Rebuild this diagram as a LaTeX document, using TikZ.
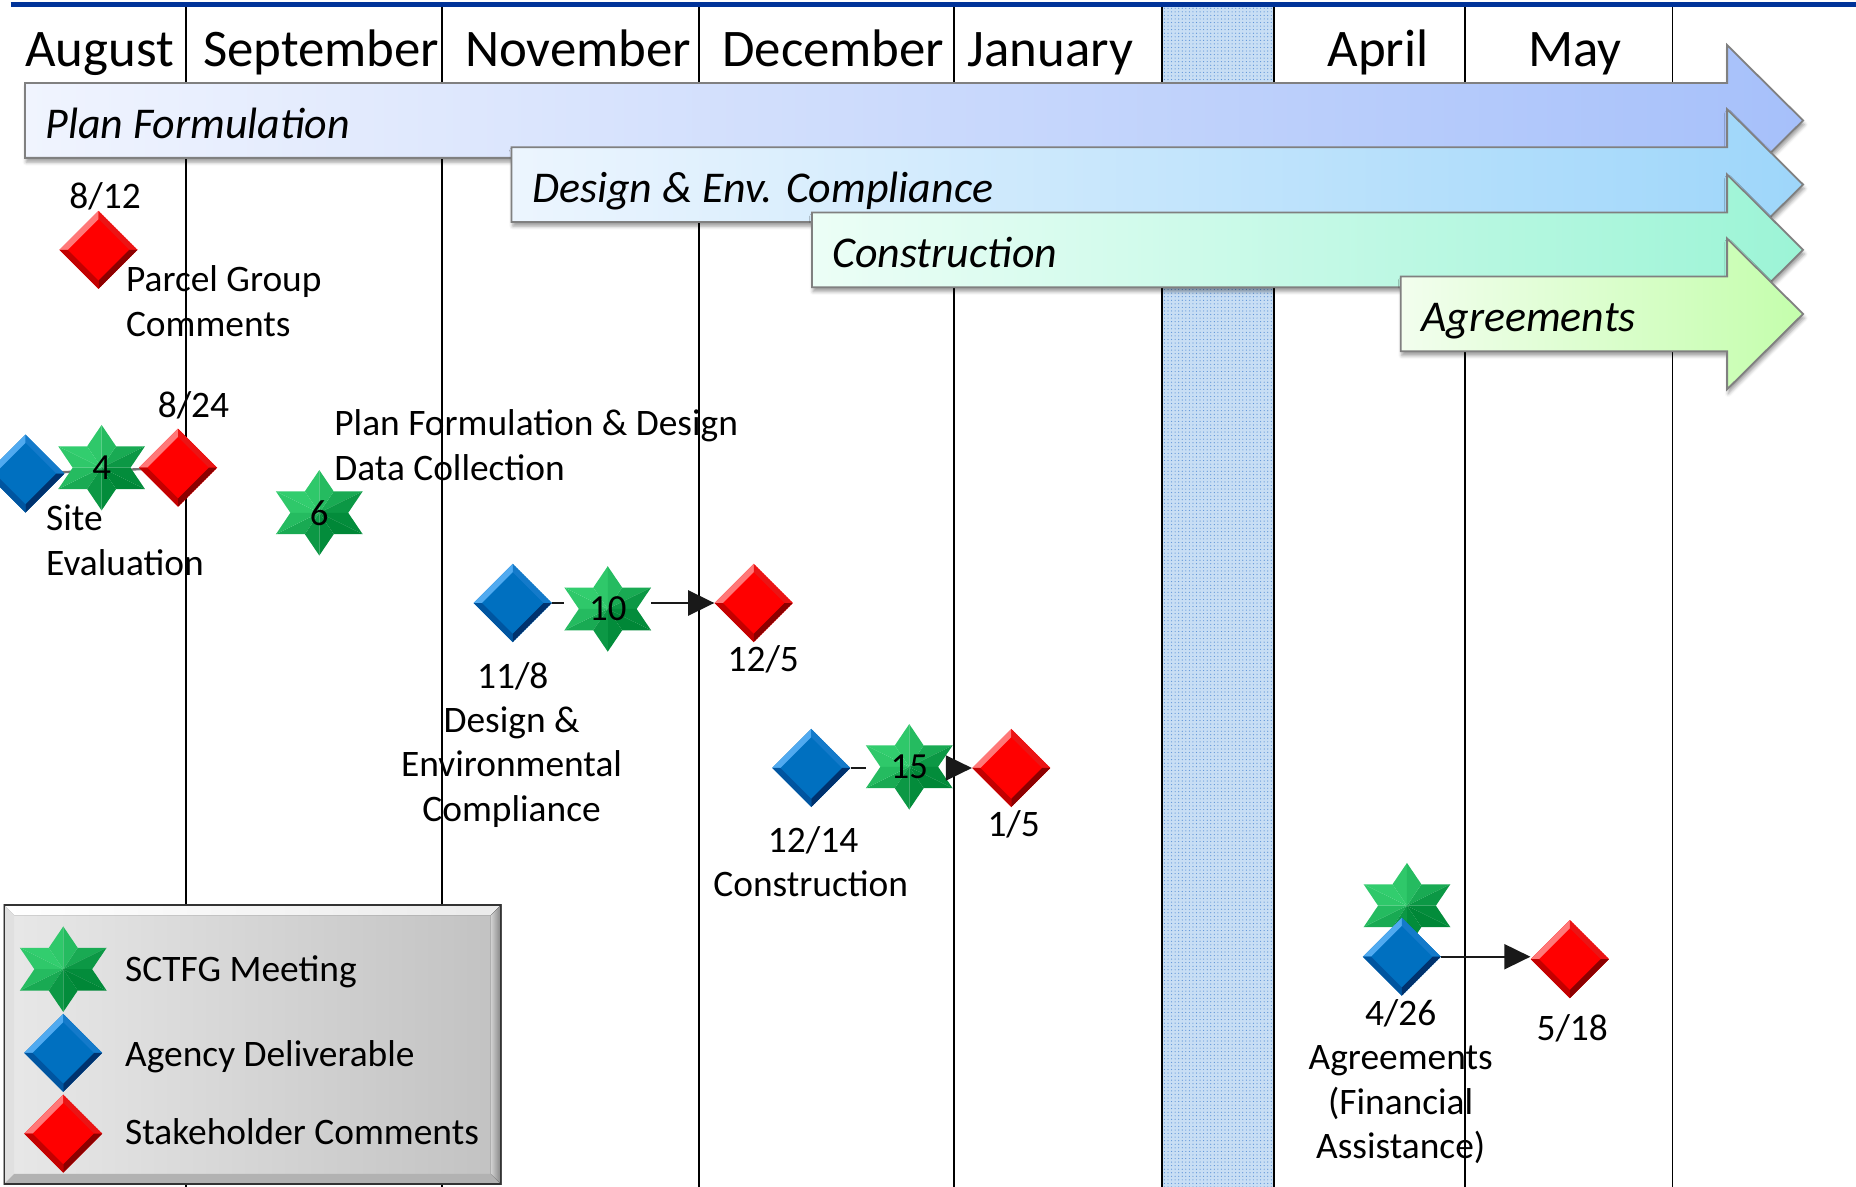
\documentclass[tikz,border=0pt]{standalone}
\usepackage{fontspec}
\setmainfont{Carlito}
\usetikzlibrary{shapes.geometric,arrows.meta,calc,patterns,shadows.blur}
\definecolor{topblue}{RGB}{0,51,153}
\definecolor{colfill}{RGB}{200,222,244}
\definecolor{coldot}{RGB}{90,145,215}
\definecolor{pfL}{RGB}{240,244,254}
\definecolor{pfR}{RGB}{166,192,250}
\definecolor{deL}{RGB}{236,245,254}
\definecolor{deR}{RGB}{158,214,250}
\definecolor{coL}{RGB}{236,254,246}
\definecolor{coR}{RGB}{156,244,214}
\definecolor{agL}{RGB}{242,254,238}
\definecolor{agR}{RGB}{196,254,172}
\definecolor{gemredM}{RGB}{255,0,0}
\definecolor{gemredL}{RGB}{255,120,120}
\definecolor{gemredT}{RGB}{235,20,20}
\definecolor{gemredB}{RGB}{195,0,0}
\definecolor{gemredD}{RGB}{140,0,0}
\definecolor{gemblueM}{RGB}{0,112,192}
\definecolor{gemblueL}{RGB}{80,170,240}
\definecolor{gemblueT}{RGB}{20,122,202}
\definecolor{gemblueB}{RGB}{0,85,160}
\definecolor{gemblueD}{RGB}{0,50,110}
\definecolor{starL}{RGB}{50,205,110}
\definecolor{starD}{RGB}{0,135,55}
\pgfdeclarelayer{behind}
\pgfsetlayers{behind,main}
\newcommand\phasebar[6]{%
  \path[phase, left color=#3, right color=#4] (#1,#2) -- (1455,#2) -- (1455,#2-32) -- (1519,#2+31.5) -- (1455,#2+95) -- (1455,#2+63) -- (#1,#2+63) -- cycle;
  \node[barlabel] (#6) at (#1+17,#2+46.5) {#5};
}
\newcommand\hexstar[3]{%
  \begin{scope}[shift={#2}, x=1.171pt, y=1pt]
    \foreach \ang in {30,90,...,330}{
      \pgfmathsetmacro\pA{50+50*cos(\ang+15-135)}
      \pgfmathsetmacro\pB{50+50*cos(\ang-15-135)}
      \fill[starL!\pA!starD] (0,0) -- (\ang:36) -- (\ang+30:20.8) -- cycle;
      \fill[starL!\pB!starD] (0,0) -- (\ang:36) -- (\ang-30:20.8) -- cycle;
    }
  \end{scope}
  \node[sctfg] (#1) at #2 {#3};
}
\begin{document}
\begin{tikzpicture}[x=1pt,y=-1pt,
  lbl/.style={inner sep=0pt, anchor=base, font=\fontsize{31.5}{37.5}\selectfont},
  month/.style={inner sep=0pt, anchor=base, font=\fontsize{44.5}{48}\selectfont},
  barlabel/.style={inner sep=0pt, anchor=base west, font=\fontsize{37}{40}\selectfont\itshape},
  gridline/.style={black, line width=1.6pt},
  phase/.style={draw=black!50, line width=1.5pt, blur shadow={shadow xshift=1pt, shadow yshift=-3.5pt, shadow blur radius=3pt, shadow opacity=40}},
  conn/.style={black!90, line width=2pt},
  tip/.style={-{Triangle[length=22pt,width=21pt]}},
  gem/.style={diamond, minimum width=66pt, minimum height=66pt, inner sep=0pt, fill=#1M,
    path picture={
      \begin{scope}[shift={(path picture bounding box.center)}, x=1pt, y=1pt]
        \fill[#1L] (0,33) -- (-33,0) -- (-26,0) -- (0,26) -- cycle;
        \fill[#1T] (0,33) -- (33,0) -- (26,0) -- (0,26) -- cycle;
        \fill[#1B] (-33,0) -- (0,-33) -- (0,-26) -- (-26,0) -- cycle;
        \fill[#1D] (33,0) -- (0,-33) -- (0,-26) -- (26,0) -- cycle;
      \end{scope}}},
  sctfg/.style={rectangle, minimum width=73pt, minimum height=72pt, inner sep=0pt,
    font=\fontsize{31}{31}\selectfont},
  legendbox/.style={rectangle, minimum width=419.5pt, minimum height=236pt, inner sep=0pt,
    left color=black!9, middle color=white!97!black, right color=black!24,
    path picture={
      \begin{scope}[shift={(path picture bounding box.center)}, x=1pt, y=1pt]
        \fill[left color=white, right color=black!8] (-209.75,118) -- (209.75,118) -- (200.75,109) -- (-200.75,109) -- cycle;
        \fill[black!12] (-209.75,118) -- (-209.75,-118) -- (-200.75,-109) -- (-200.75,109) -- cycle;
        \fill[black!30] (-209.75,-118) -- (209.75,-118) -- (200.75,-109) -- (-200.75,-109) -- cycle;
        \fill[left color=black!18, right color=black!50] (209.75,118) -- (209.75,-118) -- (200.75,-109) -- (200.75,109) -- cycle;
      \end{scope}
      \draw[black!80, line width=3pt] (path picture bounding box.south west) rectangle (path picture bounding box.north east);}},
  legtext/.style={lbl, anchor=base west}
]
\useasboundingbox (0,0) rectangle (1563.6,1000);

% free labels (grid lines pass over them); base = baseline of the last line
\node[lbl] (t812) at (88.5,175.4) {8/12};
\node[lbl, anchor=base west, align=left] (tparcel) at (106,283.1) {Parcel Group\\Comments};
\node[lbl] (t824) at (163,351.5) {8/24};
\node[lbl, anchor=base west, align=left] (tsite) at (38.7,484.5) {Site\\Evaluation};
\node[lbl, anchor=base west, align=left] (tpfd) at (281.5,404.5) {Plan Formulation \& Design\\Data Collection};
\node[lbl] (t118) at (432,580) {11/8};
\node[lbl, align=center] (tdec) at (431,692) {Design \&\\Environmental\\Compliance};
\node[lbl] (t125) at (643,565.6) {12/5};
\node[lbl] (t1214) at (685,718) {12/14};
\node[lbl] (tcons) at (683,755) {Construction};
\node[lbl] (t15) at (854,704.6) {1/5};
\node[lbl] (t426) at (1180,863.8) {4/26};
\node[lbl, align=center] (tagr) at (1180,976.1) {Agreements\\(Financial\\Assistance)};
\node[lbl] (t518) at (1324.5,876.7) {5/18};

% shaded gap column
\fill[colfill] (979,5) rectangle (1073,1000);
\fill[pattern=dots, pattern color=coldot] (979,5) rectangle (1073,1000);

% grid lines
\foreach \gx in {157,372,588.5,803.5,979,1073,1234.5,1409}
  \draw[gridline] (\gx,5) -- (\gx,1000);

% months
\node[month] (mAug) at (84,56) {August};
\node[month] (mSep) at (270.5,56) {September};
\node[month] (mNov) at (487,56) {November};
\node[month] (mDec) at (702,56) {December};
\node[month] (mJan) at (885,56) {January};
\node[month] (mApr) at (1161,56) {April};
\node[month] (mMay) at (1327,56) {May};

% phase arrows
\phasebar{21}{70}{pfL}{pfR}{Plan Formulation}{pPlan}
\phasebar{431}{124}{deL}{deR}{Design \& Env. Compliance}{pDesign}
\phasebar{684}{179}{coL}{coR}{Construction}{pCons}
\phasebar{1180}{233}{agL}{agR}{Agreements}{pAgr}

% legend
\node[legendbox] (legend) at (212.75,880) {};
\node[legtext] (lt1) at (105.3,826.6) {SCTFG Meeting};
\node[legtext] (lt2) at (105.3,898.2) {Agency Deliverable};
\node[legtext] (lt3) at (105.3,964.2) {Stakeholder Comments};
\hexstar{ls}{(53.3,816.5)}{}
\node[gem=gemblue] (lb) at (53.3,887) {};
\node[gem=gemred] (lr) at (53.3,955) {};

% milestones
\node[gem=gemred] (r812) at (83,210.5) {};
\node[gem=gemblue] (bsite) at (21.5,399) {};
\hexstar{s4}{(85.6,394)}{4}
\node[gem=gemred] (r824) at (150,394) {};
\hexstar{s6}{(269,432)}{6}
\node[gem=gemblue] (b118) at (432,508) {};
\hexstar{s10}{(512,513)}{10}
\node[gem=gemred] (r125) at (635,508) {};
\node[gem=gemblue] (b1214) at (683.5,647) {};
\hexstar{s15}{(766,646)}{15}
\node[gem=gemred] (r15) at (852,647) {};
\hexstar{s426}{(1185.3,763)}{}
\node[gem=gemblue] (b426) at (1181,806) {};
\node[gem=gemred] (r518) at (1322.5,808) {};

% connectors
\begin{pgfonlayer}{behind}
  \draw[conn, black!55] (bsite.center) -- (r824.center);
\end{pgfonlayer}
\draw[conn] (b118.east) -- (s10.west |- b118.east);
\draw[conn, tip] (s10.east |- r125.west) -- (r125.west);
\draw[conn] (b1214.east) -- (s15.west |- b1214.east);
\draw[conn, tip] (s15.east |- r15.west) -- (r15.west);
\draw[conn, tip] (b426.east) -- (b426.east -| r518.west);

% top rule
\draw[topblue, line width=4.5pt] (9,4) -- (1563.6,4);
\end{tikzpicture}
\end{document}
